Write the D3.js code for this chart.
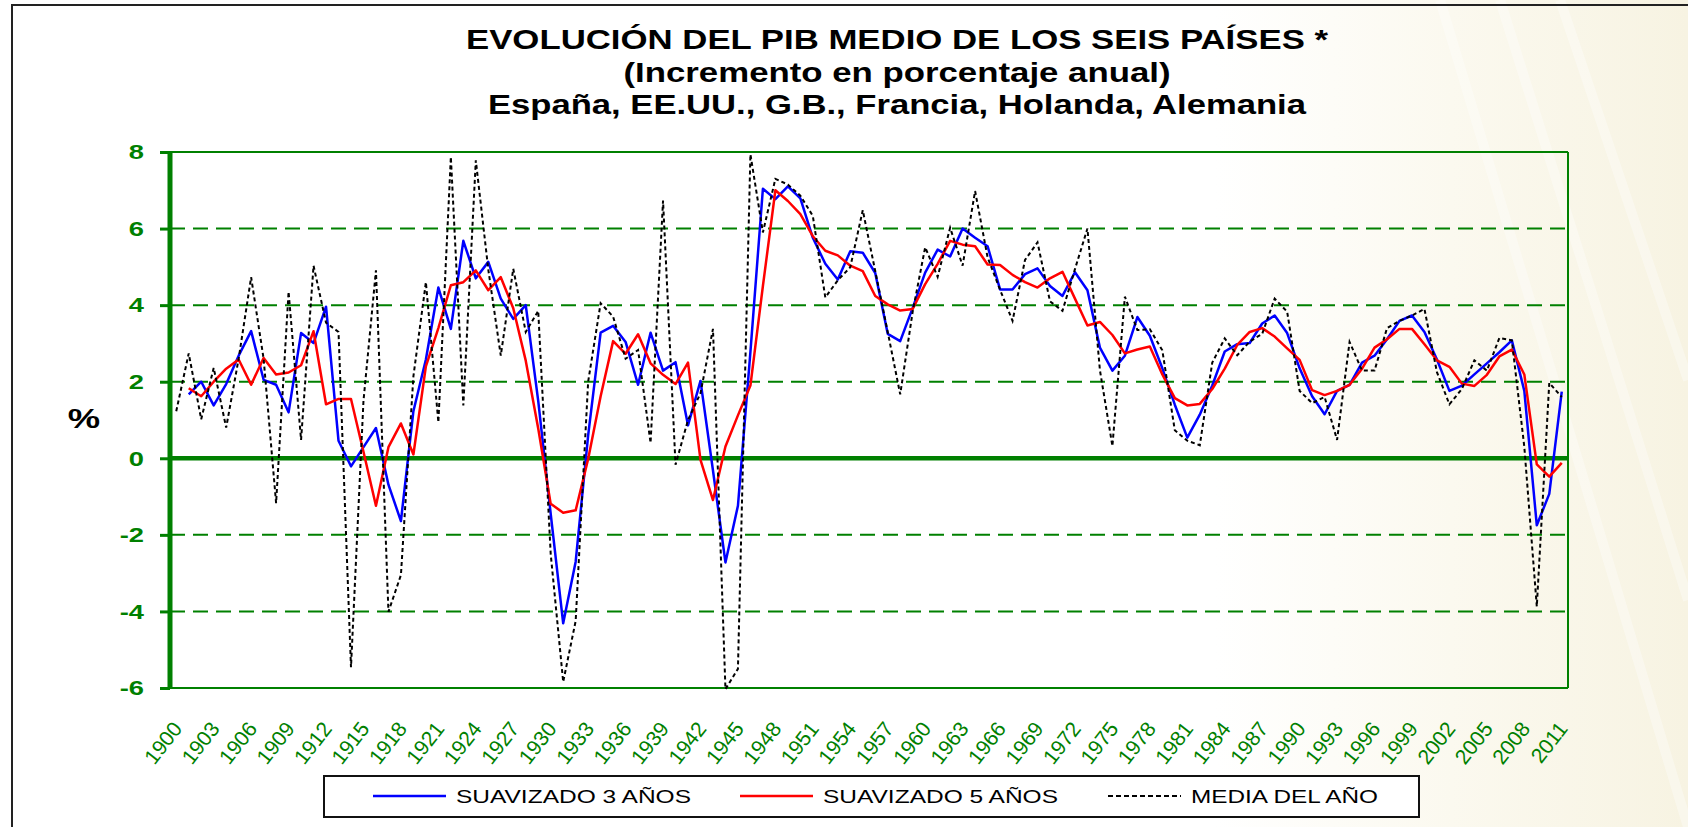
<!DOCTYPE html>
<html>
<head>
<meta charset="utf-8">
<script src="https://cdn.jsdelivr.net/npm/d3@7"></script>
<style>
  html, body { margin: 0; padding: 0; background: #fff; }
  svg { display: block; font-family: "Liberation Sans", Arial, sans-serif; }
</style>
</head>
<body>
<svg id="chart" width="1688" height="827"></svg>
<script>
const YEARS = d3.range(1900, 2012);

const X_TICK_LABELS = [1900, 1903, 1906, 1909, 1912, 1915, 1918, 1921, 1924, 1927,
  1930, 1933, 1936, 1939, 1942, 1945, 1948, 1951, 1954, 1957, 1960, 1963, 1966,
  1969, 1972, 1975, 1978, 1981, 1984, 1987, 1990, 1993, 1996, 1999, 2002, 2005,
  2008, 2011];

const Y_TICKS = [-6, -4, -2, 0, 2, 4, 6, 8];

// media del año, 1900-2011
const MEDIA_ANO = [
  1.23, 2.74, 1.02, 2.36, 0.80, 2.6, 4.73, 2.6, -1.17, 4.35,
  0.48, 5.03, 3.54, 3.3, -5.46, 1.5, 4.91, -4.01, -3.05, 2.14,
  4.6, 0.94, 7.87, 1.38, 7.78, 4.93, 2.68, 4.95, 3.3, 3.85,
  -2.5, -5.84, -4.25, 2.0, 4.05, 3.7, 2.6, 2.83, 0.4, 6.73,
  -0.17, 1.0, 1.7, 3.38, -6.03, -5.5, 7.94, 5.9, 7.3, 7.15,
  6.86, 6.33, 4.2, 4.65, 4.99, 6.48, 4.89, 3.3, 1.67, 3.83,
  5.51, 4.74, 6.02, 5.03, 6.98, 5.25, 4.4, 3.59, 5.18, 5.64,
  4.1, 3.85, 4.94, 6.0, 2.3, 0.32, 4.22, 3.35, 3.37, 2.82,
  0.73, 0.46, 0.34, 2.5, 3.13, 2.69, 3.05, 3.25, 4.17, 3.83,
  1.76, 1.44, 1.6, 0.48, 3.04, 2.29, 2.29, 3.4, 3.59, 3.73,
  3.9, 2.25, 1.41, 1.81, 2.56, 2.29, 3.14, 3.08, 0.3, -3.87,
  1.97, 1.6
];

// suavizado 3 años, 1900-2011 (sin dato en 1900)
const SUAVIZADO_3 = [
  null, 1.67, 2.0, 1.38, 1.94, 2.68, 3.32, 2.05, 1.92, 1.2,
  3.27, 3.01, 3.96, 0.46, -0.21, 0.29, 0.79, -0.69, -1.64, 1.23,
  2.58, 4.46, 3.38, 5.68, 4.7, 5.13, 4.17, 3.64, 4.0, 1.5,
  -1.45, -4.31, -2.7, 0.6, 3.28, 3.46, 3.04, 1.92, 3.28, 2.29,
  2.51, 0.86, 2.02, -0.32, -2.72, -1.24, 2.78, 7.04, 6.77, 7.1,
  6.79, 5.76, 5.08, 4.67, 5.41, 5.37, 4.84, 3.25, 3.06, 3.93,
  4.85, 5.45, 5.27, 6.0, 5.76, 5.54, 4.41, 4.41, 4.81, 4.96,
  4.5, 4.24, 4.86, 4.39, 2.89, 2.29, 2.68, 3.69, 3.2, 2.35,
  1.4, 0.54, 1.14, 1.9, 2.79, 2.98, 3.01, 3.52, 3.73, 3.27,
  2.35, 1.62, 1.15, 1.76, 1.92, 2.5, 2.68, 3.11, 3.59, 3.73,
  3.3, 2.58, 1.76, 1.9, 2.19, 2.48, 2.77, 3.08, 1.76, -1.75,
  -0.93, 1.74
];

// suavizado 5 años, 1900-2011 (sin dato en 1900)
const SUAVIZADO_5 = [
  null, 1.83, 1.62, 2.0, 2.34, 2.58, 1.92, 2.62, 2.19, 2.24,
  2.43, 3.32, 1.41, 1.55, 1.55, 0.17, -1.24, 0.29, 0.91, 0.1,
  2.4, 3.4, 4.52, 4.6, 4.91, 4.39, 4.73, 3.92, 2.55, 0.78,
  -1.19, -1.42, -1.36, -0.02, 1.62, 3.06, 2.73, 3.24, 2.48, 2.18,
  1.94, 2.5, -0.04, -1.09, 0.31, 1.12, 1.9, 4.5, 7.0, 6.72,
  6.38, 5.8, 5.42, 5.3, 5.03, 4.89, 4.24, 4.02, 3.86, 3.9,
  4.55, 5.08, 5.68, 5.58, 5.54, 5.06, 5.05, 4.79, 4.6, 4.46,
  4.7, 4.87, 4.17, 3.47, 3.56, 3.22, 2.74, 2.84, 2.92, 2.19,
  1.57, 1.38, 1.42, 1.81, 2.34, 2.96, 3.3, 3.4, 3.18, 2.87,
  2.57, 1.78, 1.65, 1.76, 1.92, 2.34, 2.89, 3.11, 3.38, 3.38,
  2.98, 2.56, 2.39, 1.95, 1.89, 2.18, 2.66, 2.84, 2.19, -0.16,
  -0.48, -0.12
];

const TITLE_LINES = [
  "EVOLUCIÓN DEL PIB MEDIO DE LOS SEIS PAÍSES *",
  "(Incremento en porcentaje anual)",
  "España, EE.UU., G.B., Francia, Holanda, Alemania"
];

const LEGEND_LABELS = ["SUAVIZADO 3 AÑOS", "SUAVIZADO 5 AÑOS", "MEDIA DEL AÑO"];

const GREEN = "#008000";
const plot = { left: 170, right: 1568, top: 152, bottom: 688 };
const STRETCH = 1.3; // the source chart is widened horizontally

const svg = d3.select("#chart");

// stretch text horizontally like the original picture
const widen = (sel, k) => {
  sel.each(function () {
    const w = this.getComputedTextLength();
    d3.select(this)
      .attr("textLength", w * k)
      .attr("lengthAdjust", "spacingAndGlyphs");
  });
};

// background with cream wash on the right
const defs = svg.append("defs");
const grad = defs.append("linearGradient")
  .attr("id", "bg")
  .attr("x1", 0).attr("x2", 1).attr("y1", 0).attr("y2", 0);
grad.append("stop").attr("offset", "0%").attr("stop-color", "#ffffff");
grad.append("stop").attr("offset", "72%").attr("stop-color", "#ffffff");
grad.append("stop").attr("offset", "86%").attr("stop-color", "#fbf9ef");
grad.append("stop").attr("offset", "100%").attr("stop-color", "#f7f3e2");

svg.append("rect")
  .attr("width", 1688).attr("height", 827)
  .attr("fill", "url(#bg)");

// faint diagonal streaks
[[1500, 0, 1688, 600], [1560, 0, 1688, 380], [1440, 0, 1688, 827]].forEach(([x1, y1, x2, y2]) => {
  svg.append("line")
    .attr("x1", x1).attr("y1", y1).attr("x2", x2).attr("y2", y2)
    .attr("stroke", "#ffffff").attr("stroke-width", 10).attr("opacity", 0.35);
});

// outer frame
svg.append("path")
  .attr("d", "M12,827 V5 H1688")
  .attr("fill", "none")
  .attr("stroke", "#222")
  .attr("stroke-width", 2);

// title
const titleY = [49, 82, 114];
const titleW = [862, 547, 818];
TITLE_LINES.forEach((t, i) => {
  svg.append("text")
    .attr("x", 897)
    .attr("y", titleY[i])
    .attr("text-anchor", "middle")
    .attr("font-size", 28)
    .attr("font-weight", "bold")
    .attr("fill", "#000")
    .attr("textLength", titleW[i])
    .attr("lengthAdjust", "spacingAndGlyphs")
    .text(t);
});

// scales
const x = d3.scalePoint()
  .domain(YEARS)
  .range([plot.left, plot.right])
  .padding(0.5);

const y = d3.scaleLinear()
  .domain([-6, 8])
  .range([plot.bottom, plot.top]);

// gridlines
const grid = svg.append("g");
grid.selectAll("line.grid")
  .data(Y_TICKS.filter((v) => v !== 0 && v !== -6 && v !== 8))
  .enter()
  .append("line")
  .attr("x1", plot.left)
  .attr("x2", plot.right)
  .attr("y1", (v) => y(v))
  .attr("y2", (v) => y(v))
  .attr("stroke", GREEN)
  .attr("stroke-width", 2)
  .attr("stroke-dasharray", "15,8");

// solid borders of plot area
grid.append("line")
  .attr("x1", plot.left).attr("x2", plot.right)
  .attr("y1", y(8)).attr("y2", y(8))
  .attr("stroke", GREEN).attr("stroke-width", 2);
grid.append("line")
  .attr("x1", plot.left).attr("x2", plot.right)
  .attr("y1", y(-6)).attr("y2", y(-6))
  .attr("stroke", GREEN).attr("stroke-width", 2);
grid.append("line")
  .attr("x1", plot.right).attr("x2", plot.right)
  .attr("y1", y(8)).attr("y2", y(-6))
  .attr("stroke", GREEN).attr("stroke-width", 2);

// y axis
const yAxis = d3.axisLeft(y)
  .tickValues(Y_TICKS)
  .tickSize(10)
  .tickPadding(16)
  .tickFormat(d3.format("d"));

const yAxisG = svg.append("g")
  .attr("transform", `translate(${plot.left},0)`)
  .call(yAxis);

yAxisG.select(".domain").remove();
yAxisG.selectAll(".tick line")
  .attr("stroke", GREEN)
  .attr("stroke-width", 3);
yAxisG.selectAll(".tick text")
  .attr("fill", GREEN)
  .attr("font-size", 21)
  .attr("font-weight", "bold")
  .attr("font-family", "Liberation Sans, Arial, sans-serif")
  .text((d) => (d < 0 ? "-" + Math.abs(d) : d))
  .call(widen, STRETCH);

svg.append("line")
  .attr("x1", plot.left).attr("x2", plot.left)
  .attr("y1", y(8) - 1).attr("y2", y(-6) + 1)
  .attr("stroke", GREEN).attr("stroke-width", 5);

svg.append("line")
  .attr("x1", plot.left).attr("x2", plot.right)
  .attr("y1", y(0)).attr("y2", y(0))
  .attr("stroke", GREEN).attr("stroke-width", 4.5);

svg.append("text")
  .attr("x", 84)
  .attr("y", 428)
  .attr("text-anchor", "middle")
  .attr("font-size", 28)
  .attr("font-weight", "bold")
  .text("%")
  .call(widen, STRETCH);

// x labels
svg.append("g")
  .selectAll("text")
  .data(X_TICK_LABELS)
  .enter()
  .append("text")
  .attr("transform", (d) => `translate(${x(d) + 7},729) rotate(-52)`)
  .attr("text-anchor", "end")
  .attr("font-size", 21)
  .attr("fill", GREEN)
  .text((d) => d);

// series
const line = (values) => d3.line()
  .defined((d, i) => values[i] !== null)
  .x((d) => x(d))
  .y((d, i) => y(values[i]))(YEARS);

svg.append("path")
  .attr("d", line(SUAVIZADO_3))
  .attr("fill", "none")
  .attr("stroke", "#0000ff")
  .attr("stroke-width", 2.5)
  .attr("stroke-linejoin", "round");

svg.append("path")
  .attr("d", line(SUAVIZADO_5))
  .attr("fill", "none")
  .attr("stroke", "#ff0000")
  .attr("stroke-width", 2.5)
  .attr("stroke-linejoin", "round");

svg.append("path")
  .attr("d", line(MEDIA_ANO))
  .attr("fill", "none")
  .attr("stroke", "#000")
  .attr("stroke-width", 2)
  .attr("stroke-dasharray", "4,3");

// legend
const legend = svg.append("g");
legend.append("rect")
  .attr("x", 324).attr("y", 776)
  .attr("width", 1095).attr("height", 41)
  .attr("fill", "#fff")
  .attr("stroke", "#111")
  .attr("stroke-width", 2);

const legendItems = [
  { x: 373, color: "#0000ff", dash: null, w: 235 },
  { x: 740, color: "#ff0000", dash: null, w: 235 },
  { x: 1108, color: "#000", dash: "5,3", w: 187 }
];

legendItems.forEach((it, i) => {
  legend.append("line")
    .attr("x1", it.x).attr("x2", it.x + 73)
    .attr("y1", 796).attr("y2", 796)
    .attr("stroke", it.color)
    .attr("stroke-width", it.dash ? 2 : 2.5)
    .attr("stroke-dasharray", it.dash);
  legend.append("text")
    .attr("x", it.x + 83)
    .attr("y", 803)
    .attr("font-size", 19)
    .attr("fill", "#000")
    .attr("textLength", it.w)
    .attr("lengthAdjust", "spacingAndGlyphs")
    .text(LEGEND_LABELS[i]);
});
</script>
</body>
</html>
